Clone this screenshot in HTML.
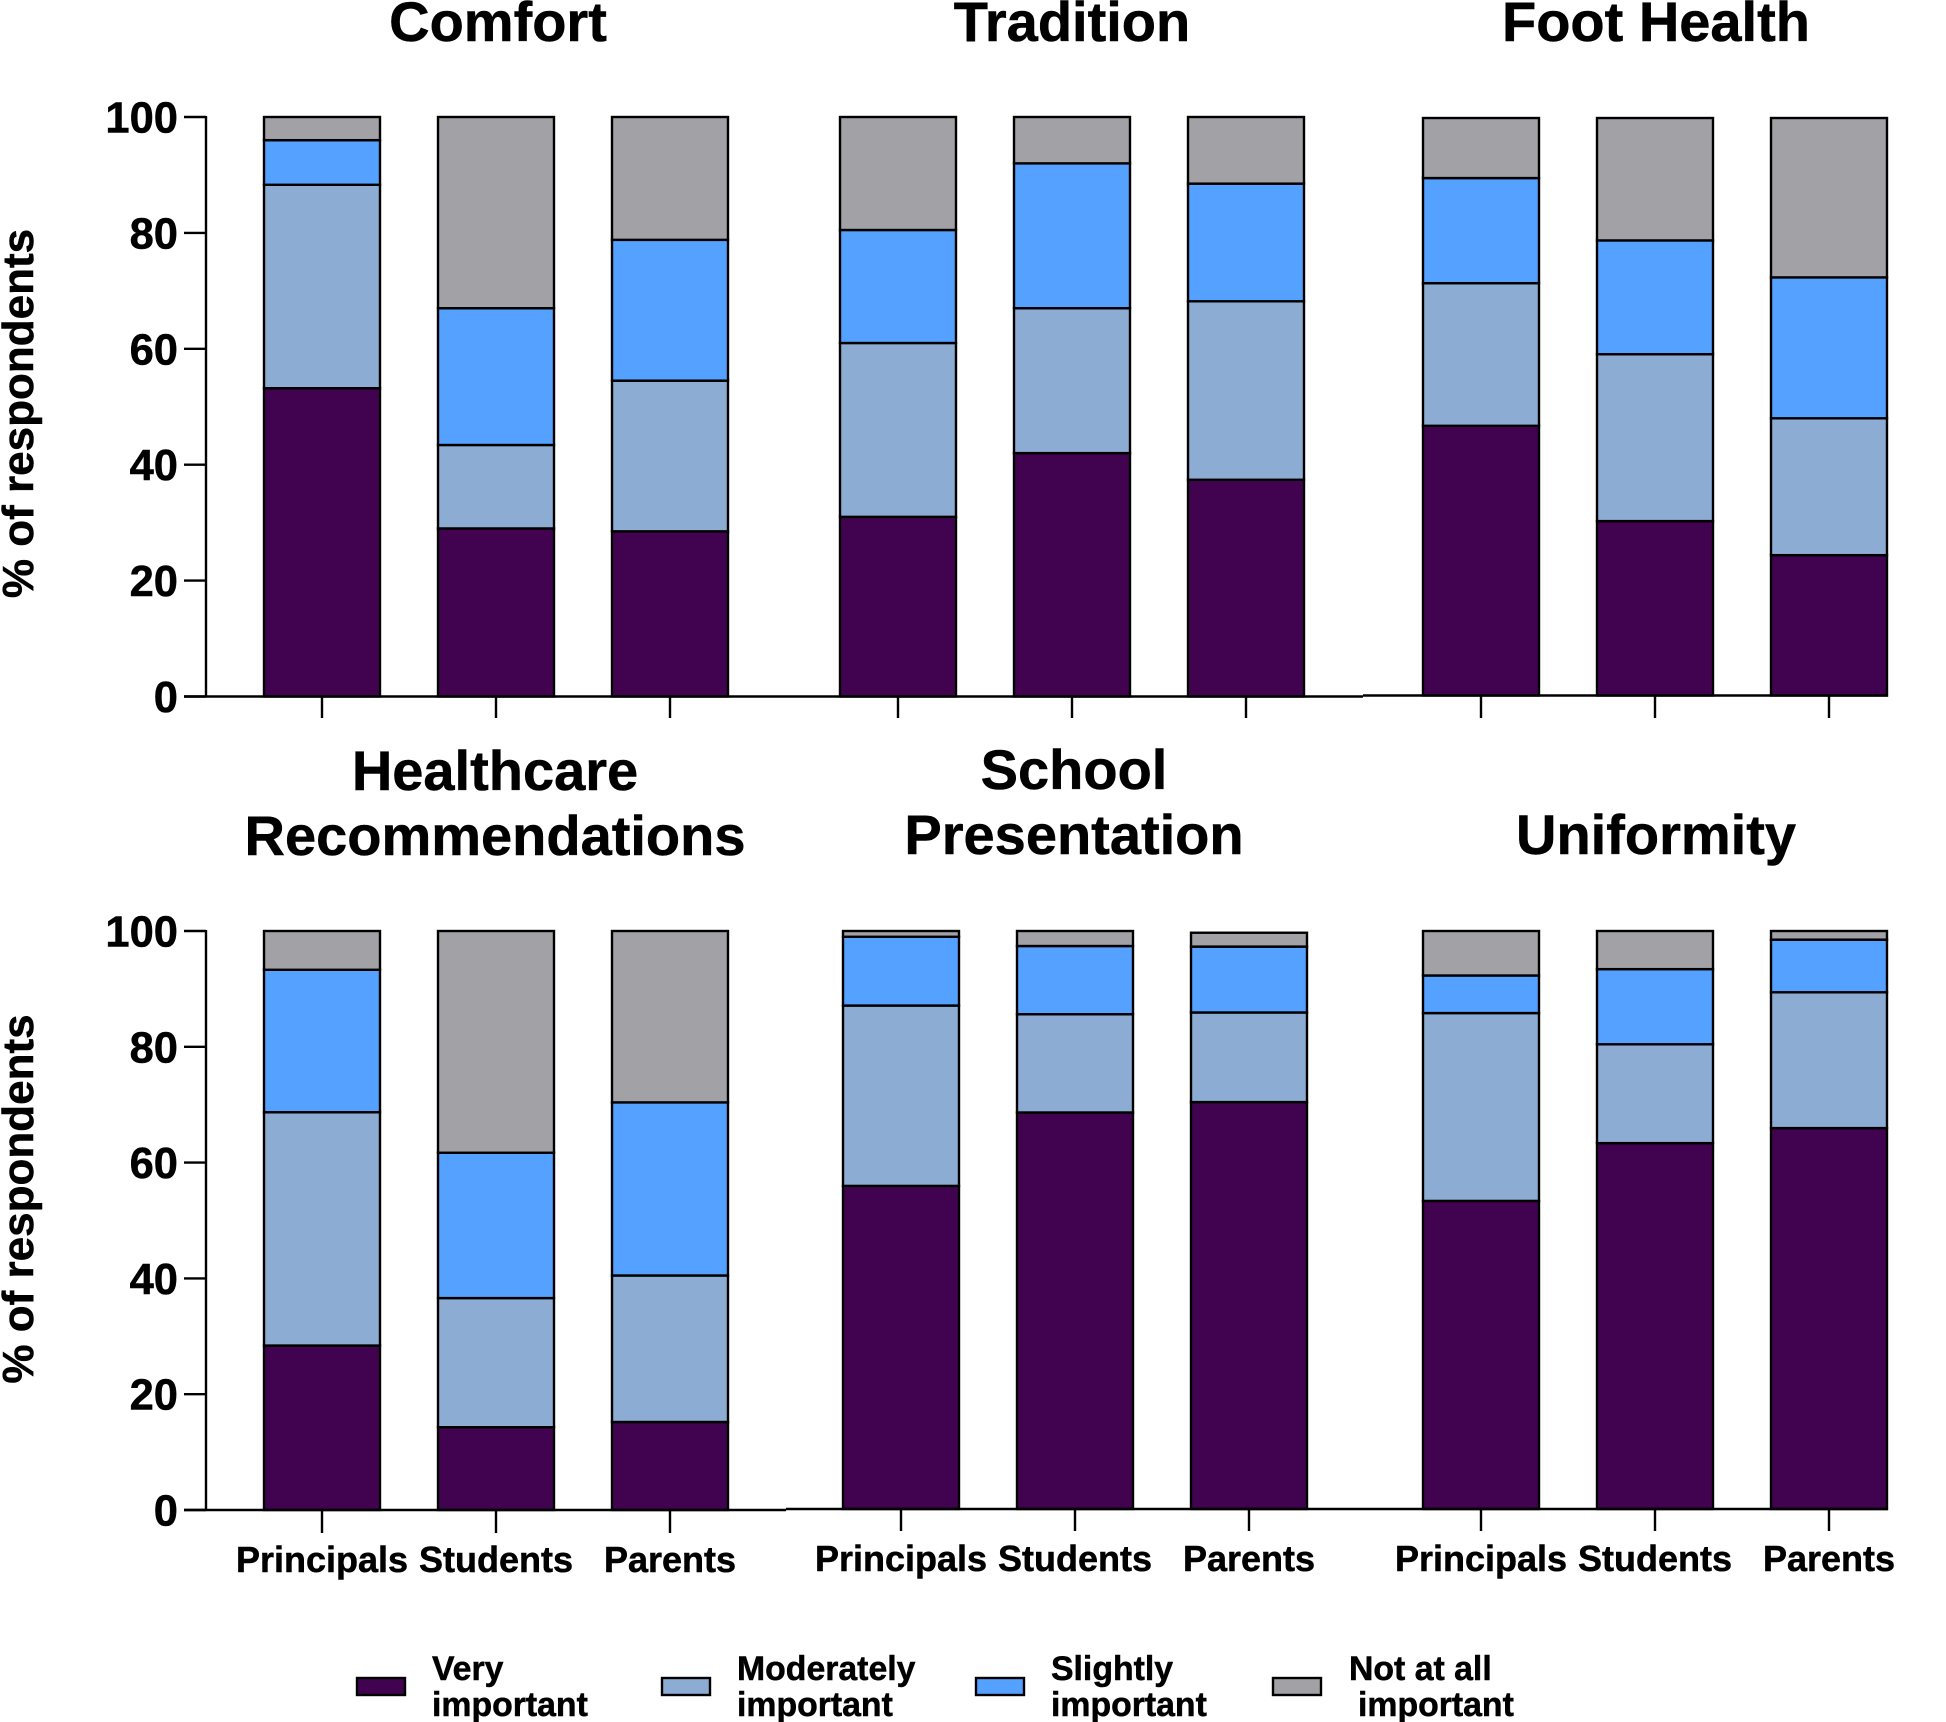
<!DOCTYPE html>
<html lang="en">
<head>
<meta charset="utf-8">
<title>Importance of school shoe factors by respondent group</title>
<style>
  html, body { margin: 0; padding: 0; background: #fff; }
  svg { display: block; }
  text { font-family: "Liberation Sans", Arial, sans-serif; font-weight: 700; fill: #000; stroke: #000; stroke-width: 0.5px; }
</style>
</head>
<body>
<svg id="chart" xmlns="http://www.w3.org/2000/svg" width="1946" height="1722" viewBox="0 0 1946 1722"></svg>
<script>
const categories = ["Principals", "Students", "Parents"];
const panelTitles = [
  ["Comfort"],
  ["Tradition"],
  ["Foot Health"],
  ["Healthcare", "Recommendations"],
  ["School", "Presentation"],
  ["Uniformity"]
];
const yTicks = [0, 20, 40, 60, 80, 100];
const yAxisTitle = "% of respondents";
const veryImportant = [
  [53.2, 29.0, 28.5],
  [31.0, 42.0, 37.4],
  [46.7, 30.2, 24.3],
  [28.4, 14.3, 15.2],
  [55.9, 68.6, 70.4],
  [53.3, 63.3, 65.9]
];
const moderatelyImportant = [
  [35.1, 14.4, 26.0],
  [30.0, 25.0, 30.8],
  [24.7, 28.9, 23.7],
  [40.3, 22.3, 25.3],
  [31.2, 17.0, 15.5],
  [32.5, 17.1, 23.5]
];
const slightlyImportant = [
  [7.7, 23.6, 24.3],
  [19.5, 25.0, 20.3],
  [18.2, 19.7, 24.4],
  [24.6, 25.1, 29.9],
  [11.9, 11.8, 11.4],
  [6.5, 13.0, 9.1]
];
const notAtAllImportant = [
  [4.0, 33.0, 21.2],
  [19.5, 8.0, 11.5],
  [10.4, 21.2, 27.6],
  [6.7, 38.3, 29.6],
  [1.0, 2.6, 2.4],
  [7.7, 6.6, 1.5]
];
const seriesNames = ["very-important", "moderately-important", "slightly-important", "not-at-all-important"];
const seriesColors = ["#41024f", "#8cacd4", "#55a1ff", "#a2a1a6"];
const seriesValues = [veryImportant, moderatelyImportant, slightlyImportant, notAtAllImportant];

const svgNS = "http://www.w3.org/2000/svg";
const chart = document.getElementById("chart");
const STROKE = 2.4;

const frames = [
  { top: 117, bottom: 696.5, center0: 322, step: 174, axisX: 206, lineFrom: 184, lineTo: 786, yAxis: true, yTitleCenter: 413.5, titleY: [41], titleX: 498, catY: null, tickEnd: 718 },
  { top: 117, bottom: 696.5, center0: 898, step: 174, axisX: null, lineFrom: 786, lineTo: 1363, yAxis: false, titleY: [41], titleX: 1072, catY: null, tickEnd: 718 },
  { top: 118, bottom: 695.5, center0: 1481, step: 174, axisX: null, lineFrom: 1363, lineTo: 1888, yAxis: false, titleY: [41], titleX: 1656, catY: null, tickEnd: 718 },
  { top: 931, bottom: 1510, center0: 322, step: 174, axisX: 206, lineFrom: 184, lineTo: 786, yAxis: true, yTitleCenter: 1199, titleY: [790, 855], titleX: 495, catY: 1572, tickEnd: 1533 },
  { top: 931, bottom: 1509, center0: 901, step: 174, axisX: null, lineFrom: 786, lineTo: 1363, yAxis: false, titleY: [789, 854], titleX: 1074, catY: 1571, tickEnd: 1531 },
  { top: 931, bottom: 1509, center0: 1481, step: 174, axisX: null, lineFrom: 1363, lineTo: 1888, yAxis: false, titleY: [854], titleX: 1656, catY: 1571, tickEnd: 1531 }
];
const BAR_WIDTH = 116;

function yScale(frame, value) {
  return frame.bottom - (value / 100) * (frame.bottom - frame.top);
}
function xScale(frame, index) {
  return frame.center0 + index * frame.step;
}
function make(tag, attrs, parent) {
  const el = document.createElementNS(svgNS, tag);
  for (const k in attrs) el.setAttribute(k, attrs[k]);
  parent.appendChild(el);
  return el;
}

frames.forEach(function (frame, p) {
  const panel = make("g", {}, chart);
  
  

  panelTitles[p].forEach(function (line, i) {
    const t = make("text", { x: frame.titleX, y: frame.titleY[i], "text-anchor": "middle", "font-size": 56 }, panel);
    
    
    t.textContent = line;
  });

  categories.forEach(function (cat, c) {
    const cx = xScale(frame, c);
    const barGroup = make("g", {}, panel);
    
    
    let cum = 0;
    seriesValues.forEach(function (series, s) {
      const v = series[p][c];
      const y0 = yScale(frame, cum);
      const y1 = yScale(frame, cum + v);
      const r = make("rect", {
        x: cx - BAR_WIDTH / 2, y: y1, width: BAR_WIDTH, height: y0 - y1,
        fill: seriesColors[s], stroke: "#000", "stroke-width": STROKE
      }, barGroup);
      
      
      cum += v;
    });

    const tick = make("line", { x1: cx, x2: cx, y1: frame.bottom, y2: frame.tickEnd, stroke: "#000", "stroke-width": STROKE }, panel);
    
    

    if (frame.catY !== null) {
      const label = make("text", { x: cx, y: frame.catY, "text-anchor": "middle", "font-size": 36 }, panel);
      
      
      label.textContent = cat;
    }
  });

  const baseline = make("line", { x1: frame.lineFrom, x2: frame.lineTo, y1: frame.bottom, y2: frame.bottom, stroke: "#000", "stroke-width": STROKE }, panel);
  
  

  if (frame.yAxis) {
    const axis = make("line", { x1: frame.axisX, x2: frame.axisX, y1: frame.top - 1, y2: frame.bottom, stroke: "#000", "stroke-width": STROKE }, panel);
    
    

    yTicks.forEach(function (tv) {
      const y = yScale(frame, tv);
      const tk = make("line", { x1: frame.lineFrom, x2: frame.axisX, y1: y, y2: y, stroke: "#000", "stroke-width": STROKE }, panel);
      
      
      const lb = make("text", { x: 178, y: y + 15.5, "text-anchor": "end", "font-size": 43.5 }, panel);
      
      
      lb.textContent = tv;
    });

    const title = make("text", { x: 0, y: 0, transform: "translate(33," + frame.yTitleCenter + ") rotate(-90)", "text-anchor": "middle", "font-size": 44 }, panel);
    
    
    title.textContent = yAxisTitle;
  }
});

const legendLabels = [
  ["Very", "important"],
  ["Moderately", "important"],
  ["Slightly", "important"],
  ["Not at all", "important"]
];
const legendLayout = [
  { sx: 357, tx: 432, tx2: 432 },
  { sx: 662, tx: 737, tx2: 737 },
  { sx: 976, tx: 1051, tx2: 1051 },
  { sx: 1273, tx: 1349, tx2: 1358 }
];
const legend = make("g", {}, chart);


legendLabels.forEach(function (lines, i) {
  const L = legendLayout[i];
  const entry = make("g", {}, legend);
  
  
  const sw = make("rect", { x: L.sx, y: 1678, width: 48, height: 17, fill: seriesColors[i], stroke: "#000", "stroke-width": STROKE }, entry);
  
  
  const t1 = make("text", { x: L.tx, y: 1680, "font-size": 33.8 }, entry);
  
  
  t1.textContent = lines[0];
  const t2 = make("text", { x: L.tx2, y: 1716, "font-size": 33.8 }, entry);
  
  
  t2.textContent = lines[1];
});
</script>
</body>
</html>
